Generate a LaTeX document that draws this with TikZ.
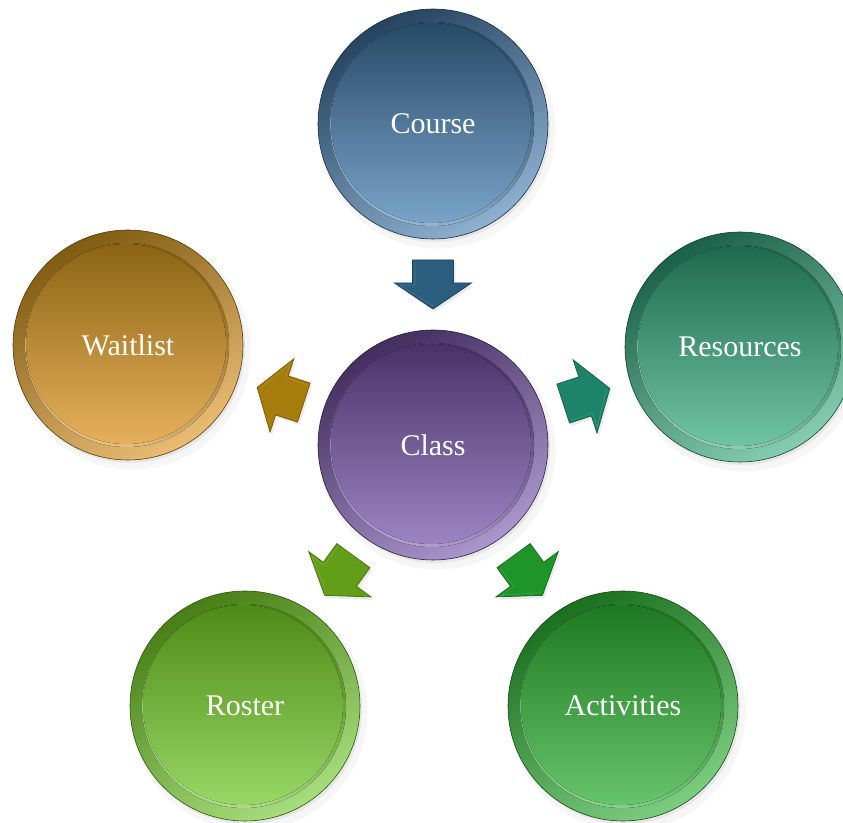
\documentclass[tikz,border=0pt]{standalone}
\usepackage{fontspec}
\setmainfont{Liberation Serif}
\usetikzlibrary{calc,shadows}
\definecolor{courseT}{HTML}{284A68}\definecolor{courseB}{HTML}{7AA3C9}
\definecolor{classT}{HTML}{4A3268}\definecolor{classB}{HTML}{9C84C4}
\definecolor{waitT}{HTML}{8C6414}\definecolor{waitB}{HTML}{E6B05C}
\definecolor{resT}{HTML}{1E6A50}\definecolor{resB}{HTML}{70C4A4}
\definecolor{rosT}{HTML}{4E8A18}\definecolor{rosB}{HTML}{98D866}
\definecolor{actT}{HTML}{1E7A22}\definecolor{actB}{HTML}{66C46A}
\definecolor{courseA}{HTML}{2B5D7F}
\definecolor{waitA}{HTML}{A67C0C}
\definecolor{resA}{HTML}{1E8469}
\definecolor{rosA}{HTML}{639E18}
\definecolor{actA}{HTML}{1F9428}
\tikzset{
  ball/.style n args={2}{circle, minimum size=230pt, inner sep=0pt, text=white,
    font=\fontsize{30}{36}\selectfont,
    drop shadow={shadow xshift=4pt, shadow yshift=-6pt, opacity=0.07, shadow scale=1.03},
    drop shadow={shadow xshift=2pt, shadow yshift=-3pt, opacity=0.13},
    top color=#1!92!black, bottom color=#2!85!white, shading angle=30,
    draw=#1!60!black, line width=0.6pt,
    path picture={
      \fill[top color=#1!95!black, bottom color=#2!70!white, shading angle=-25]
        ($(path picture bounding box.center)+(-1pt,0pt)$) circle (102pt);
      \fill[top color=#1, bottom color=#2]
        ($(path picture bounding box.center)+(-2pt,1pt)$) circle (100pt);
    }},
  arrowfill/.style={fill=#1, draw=#1!75!black, line width=0.8pt, line join=miter,
    drop shadow={shadow xshift=2pt, shadow yshift=-3pt, opacity=0.15}},
  blockarrow/.pic={
    \path[arrowfill=#1] (-24.5,-20.5) -- (-1.5,-20.5) -- (-1.5,-38.5) -- (24.5,0)
      -- (-1.5,38.5) -- (-1.5,20.5) -- (-24.5,20.5) -- cycle;
    \draw[#1!65!white, line width=0.6pt, opacity=0.4] (-22,-18) -- (0.5,-18) -- (0.5,-33) -- (21,0);
  },
}
\begin{document}
\begin{tikzpicture}[x=1pt,y=1pt]
\useasboundingbox (0,0) rectangle (843,822);
\clip (0,0) rectangle (843,822);
\node[ball={courseT}{courseB}] (course) at (433,698) {Course};
\node[ball={classT}{classB}] (class) at (433,377) {Class};
\node[ball={waitT}{waitB}] (waitlist) at (128,477) {Waitlist};
\node[ball={resT}{resB}] (resources) at (740,475) {Resources};
\node[ball={rosT}{rosB}] (roster) at (245,116) {Roster};
\node[ball={actT}{actB}] (activities) at (623,116) {Activities};
\pic[rotate=-90] at ($(course)!0.5!(class)$) {blockarrow=courseA};
\pic[rotate=162] at ($(class)!0.5!(waitlist)$) {blockarrow=waitA};
\pic[rotate=18] at ($(class)!0.5!(resources)$) {blockarrow=resA};
\pic[rotate=234] at ($(class)!0.5!(roster)$) {blockarrow=rosA};
\pic[rotate=-54] at ($(class)!0.5!(activities)$) {blockarrow=actA};
\end{tikzpicture}
\end{document}
